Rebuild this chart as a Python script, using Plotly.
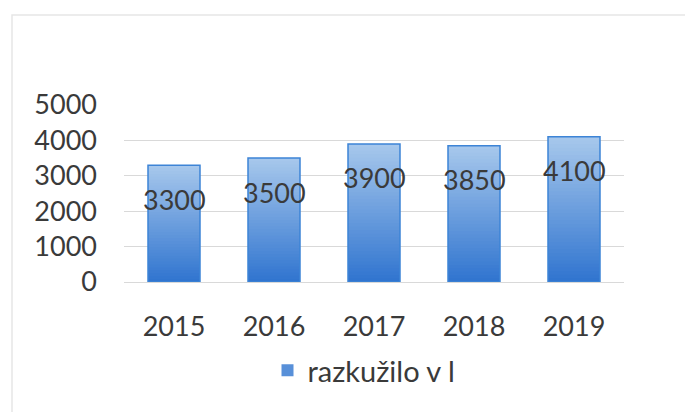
import plotly.graph_objects as go

years = ["2015", "2016", "2017", "2018", "2019"]
values = [3300, 3500, 3900, 3850, 4100]
series_name = "razkužilo v l"
y_ticks = [0, 1000, 2000, 3000, 4000, 5000]

FONT = "Lato"
TXT = "#3a3a3a"
DARK = (0x2F, 0x74, 0xCF)
LIGHT = (0xA8, 0xC8, 0xEC)
N = 40
BAR_W = 0.52

fig = go.Figure()

# gradient fill: each layer spans from a fraction of the value up to the value
for i in range(N):
    t = (i + 0.5) / N
    c = tuple(round(DARK[k] + (LIGHT[k] - DARK[k]) * t) for k in range(3))
    fig.add_trace(go.Bar(
        x=years,
        y=[v * (N - i) / N for v in values],
        base=[v * i / N for v in values],
        width=BAR_W,
        name=series_name,
        marker=dict(color="rgb(%d,%d,%d)" % c, line=dict(width=0)),
        showlegend=(i == N // 3),
        hoverinfo="skip",
    ))

# outline
fig.add_trace(go.Bar(
    x=years,
    y=values,
    width=BAR_W,
    name=series_name,
    marker=dict(color="rgba(0,0,0,0)", line=dict(color="#3D84D6", width=1.5)),
    showlegend=False,
))

for idx, v in enumerate(values):
    fig.add_annotation(
        x=idx, y=v, yshift=-34, text=str(v), showarrow=False,
        font=dict(family=FONT, size=27, color=TXT),
    )

fig.update_layout(
    width=685, height=404,
    margin=dict(l=116, r=69, t=97, b=130),
    paper_bgcolor="white", plot_bgcolor="white",
    barmode="overlay",
    bargap=0.48,
    font=dict(family=FONT, size=27, color=TXT),
    legend=dict(
        orientation="h", x=0.48, xanchor="center", y=-0.5, yanchor="middle",
        font=dict(family=FONT, size=29, color=TXT),
        itemwidth=30,
    ),
    shapes=[dict(
        type="rect", xref="paper", yref="paper",
        x0=(4 - 116) / 500, x1=(700 - 116) / 500,
        y0=(282 - 430) / 177, y1=(282 - 15) / 177,
        line=dict(color="#e6e6e6", width=1.5), fillcolor="rgba(0,0,0,0)",
        layer="below",
    )],
)
fig.update_xaxes(
    type="category", range=[-0.5, len(years) - 0.5],
    showgrid=False, showline=False, ticks="",
    ticklabelstandoff=26,
    tickfont=dict(family=FONT, size=27, color=TXT),
)
fig.update_yaxes(
    range=[0, 5000], tickvals=y_ticks, showgrid=True, gridcolor="#d9d9d9",
    gridwidth=1, zeroline=True, zerolinecolor="#d9d9d9", zerolinewidth=1,
    showline=False, ticks="", ticklabelstandoff=26,
    tickfont=dict(family=FONT, size=27, color=TXT),
)

fig.write_html("out.html")
